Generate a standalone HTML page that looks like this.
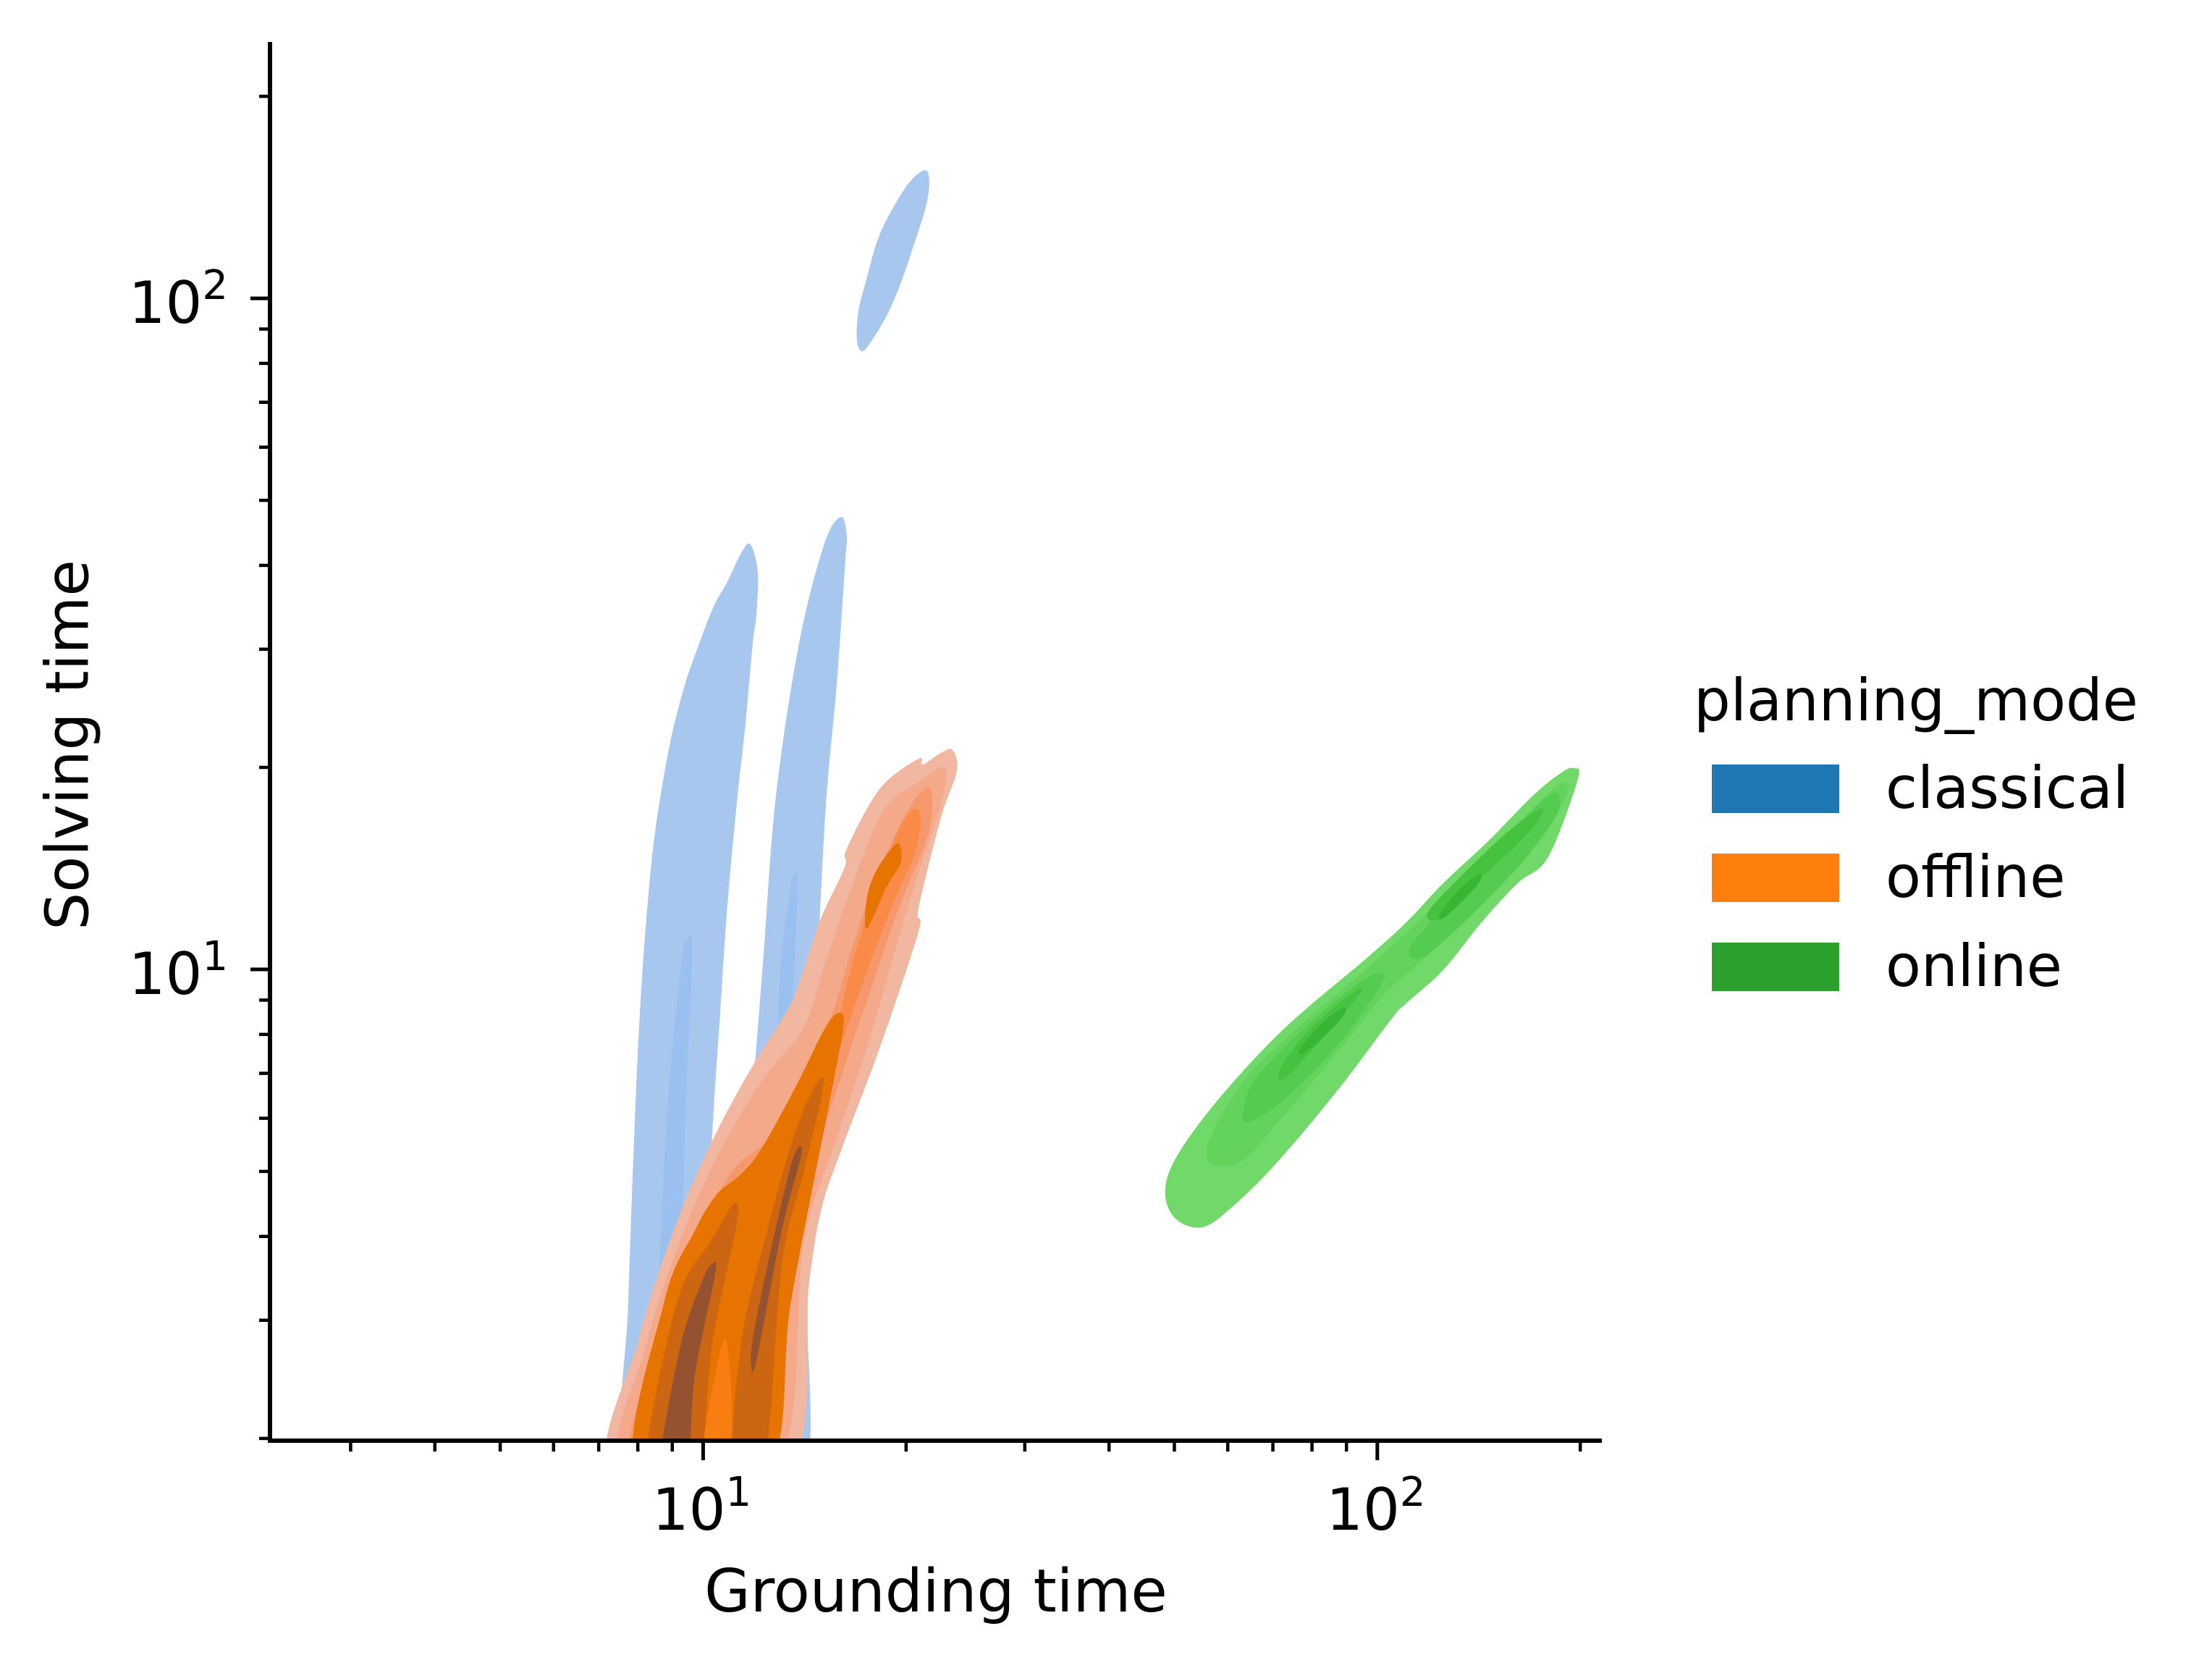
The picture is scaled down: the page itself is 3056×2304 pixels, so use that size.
<!DOCTYPE html>
<html><head><meta charset="utf-8">
<style>
html,body{margin:0;padding:0;background:#fff;}
svg{display:block;}
text{font-family:"DejaVu Sans","Liberation Sans",sans-serif;fill:#000;}
</style></head>
<body>
<svg id="chart" width="3056" height="2304" viewBox="0 0 3056 2304" xmlns="http://www.w3.org/2000/svg">
<defs><clipPath id="plotClip"><rect x="373" y="58" width="1840" height="1932"/></clipPath></defs>
<rect x="0" y="0" width="3056" height="2304" fill="#fff"/>
<g id="contours" clip-path="url(#plotClip)"></g>
<g id="axes"></g>
<text x="94" y="1029" font-size="82" text-anchor="middle" dominant-baseline="central" transform="rotate(-90 94 1029)">Solving time</text>
<text x="1293" y="2226" font-size="82" text-anchor="middle">Grounding time</text>
<g>
<text x="2340" y="995" font-size="80">planning_mode</text>
<g><rect x="2365" y="1056" width="176" height="67" fill="#1f77b4"/><text x="2605" y="1116" font-size="80">classical</text></g>
<g><rect x="2365" y="1179" width="176" height="67" fill="#ff7f0e"/><text x="2605" y="1239" font-size="80">offline</text></g>
<g><rect x="2365" y="1302" width="176" height="67" fill="#2ca02c"/><text x="2605" y="1362" font-size="80">online</text></g>
</g>
</svg>
<script>
// Axis domain (log10 units)
const xDomainLog = [0.3575, 2.333];
const yDomainLog = [0.2977, 2.382];
const xMajorExp = [1, 2];
const yMajorExp = [1, 2];
const xTickBase = ["10", "10"];
const yTickBase = ["10", "10"];
const xMinorVals = [3,4,5,6,7,8,9,20,30,40,50,60,70,80,90,200];
const yMinorVals = [2,3,4,5,6,7,8,9,20,30,40,50,60,70,80,90,200];

// Contour polygons: [log10(grounding), log10(solving)]
const classicalTop = [[1.3301,2.1909],[1.3355,2.1693],[1.3290,2.1316],[1.3119,2.0776],[1.2936,2.0237],[1.2754,1.9805],[1.2539,1.9428],[1.2367,1.9212],[1.2281,1.9374],[1.2303,1.9805],[1.2410,2.0237],[1.2593,2.0884],[1.2829,2.1370],[1.3076,2.1747]];
const classicalLeft = [[1.0703,1.6332],[1.0810,1.5922],[1.0789,1.5275],[1.0735,1.4854],[1.0628,1.3657],[1.0510,1.2578],[1.0360,1.0960],[1.0252,0.9342],[1.0145,0.7724],[1.0038,0.5567],[0.9930,0.25],[0.8825,0.25],[0.8889,0.5027],[0.8975,0.7465],[0.9061,0.9342],[0.9157,1.0744],[0.9286,1.2039],[0.9501,1.3333],[0.9716,1.4196],[0.9898,1.4736],[1.0145,1.5383],[1.0360,1.5782],[1.0574,1.6224]];
const classicalLeftInner = [[0.9780,1.0453],[0.9834,1.0205],[0.9716,0.7185],[0.9608,0.25],[0.9286,0.25],[0.9426,0.7185],[0.9662,0.9989]];
const classicalRight = [[1.2045,1.6742],[1.2131,1.6461],[1.2109,1.6095],[1.1981,1.4239],[1.1830,1.2578],[1.1723,1.0626],[1.1648,0.8803],[1.1573,0.6645],[1.1530,0.5200],[1.1519,0.25],[1.0521,0.25],[1.0649,0.7185],[1.0778,0.8706],[1.0896,1.0216],[1.1079,1.2578],[1.1422,1.4854],[1.1798,1.6343]];
const classicalRightInner = [[1.1358,1.1424],[1.1401,1.1176],[1.1326,0.9342],[1.1111,0.25],[1.0843,0.25],[1.1111,0.9342],[1.1272,1.1068]];

const offline1 = [[1.3698,1.3269],[1.3763,1.2956],[1.3526,1.2254],[1.3194,1.0906],[1.3194,1.0561],[1.2625,0.8846],[1.2056,0.7325],[1.1755,0.6430],[1.1573,0.5329],[1.1229,0.25],[0.8674,0.25],[0.9050,0.4509],[0.9608,0.6225],[1.0177,0.7530],[1.0735,0.8565],[1.1122,0.9180],[1.1379,0.9666],[1.1723,1.0701],[1.2099,1.1521],[1.2131,1.1801],[1.2625,1.2697],[1.3194,1.3139],[1.3258,1.3053],[1.3526,1.3225]];
const offline2 = [[1.3580,1.3010],[1.3526,1.2470],[1.3043,1.0960],[1.2453,0.8910],[1.1916,0.7292],[1.1487,0.5890],[1.1057,0.25],[0.8803,0.25],[0.9179,0.4488],[0.9716,0.6106],[1.0306,0.7400],[1.0896,0.8371],[1.1487,0.9126],[1.1809,1.0097],[1.2185,1.1176],[1.2668,1.2362],[1.3204,1.2794]];
const offline3 = [[1.3366,1.2686],[1.3344,1.2039],[1.2882,1.0852],[1.2292,0.9126],[1.1755,0.7508],[1.1326,0.6106],[1.0896,0.25],[0.8964,0.25],[0.9340,0.4488],[0.9877,0.5890],[1.0413,0.6969],[1.0950,0.7454],[1.1379,0.8155],[1.1916,0.9342],[1.2238,1.0421],[1.2668,1.1607],[1.3097,1.2470]];
const offline4 = [[1.3204,1.2362],[1.3151,1.1769],[1.2721,1.0744],[1.2131,0.9126],[1.1594,0.7508],[1.1165,0.6106],[1.0789,0.25],[0.9125,0.25],[0.9501,0.4488],[1.0038,0.5674],[1.0628,0.6753],[1.1111,0.7185],[1.1487,0.7832],[1.1916,0.8910],[1.2185,0.9989],[1.2453,1.0852],[1.2936,1.2147]];
const offline5Upper = [[1.2882,1.1877],[1.2936,1.1607],[1.2721,1.1230],[1.2453,1.0636],[1.2399,1.0744],[1.2453,1.1176],[1.2614,1.1553]];
const offline5Lower = [[1.2024,0.9353],[1.2077,0.9126],[1.1873,0.8015],[1.1304,0.5059],[1.0929,0.25],[0.9018,0.25],[0.9426,0.5059],[0.9877,0.6106],[1.0199,0.6645],[1.0521,0.6915],[1.0843,0.7292],[1.1379,0.8263],[1.1809,0.9126]];
const offlineStripe = [[1.0327,0.4488],[1.0413,0.25],[0.9962,0.25]];
const offline6Left = [[1.0456,0.6505],[1.0499,0.6214],[1.0145,0.4488],[0.9898,0.25],[0.9157,0.25],[0.9608,0.5027],[1.0145,0.5998]];
const offline6Right = [[1.1723,0.8360],[1.1766,0.8155],[1.1487,0.6969],[1.1165,0.5567],[1.0896,0.25],[1.0435,0.25],[1.0574,0.4488],[1.0950,0.6106],[1.1379,0.7616]];
const offline7Left = [[1.0134,0.5610],[1.0177,0.5459],[0.9877,0.3948],[0.9748,0.25],[0.9351,0.25],[0.9662,0.4380],[0.9984,0.5351]];
const offline7Right = [[1.1422,0.7357],[1.1444,0.7185],[1.1165,0.6106],[1.0789,0.4164],[1.0714,0.4110],[1.0735,0.4488],[1.0950,0.5567],[1.1272,0.6969]];

const online1 = [[2.2909,1.2999],[2.2973,1.2826],[2.2533,1.1672],[2.2082,1.1284],[2.1556,1.0712],[2.0977,0.9989],[2.0440,0.9504],[2.0214,0.9266],[1.9420,0.8209],[1.8529,0.7141],[1.7863,0.6473],[1.7413,0.6160],[1.7015,0.6278],[1.6854,0.6667],[1.7015,0.7195],[1.7638,0.8058],[1.8615,0.9115],[1.9860,1.0183],[2.0440,1.0712],[2.0977,1.1284],[2.1642,1.1909],[2.2308,1.2589],[2.2716,1.2923]];
const online2 = [[2.2759,1.2783],[2.2802,1.2589],[2.2222,1.1672],[2.1417,1.0852],[2.0665,1.0129],[2.0129,0.9655],[1.9420,0.8781],[1.8529,0.7724],[1.7992,0.7141],[1.7552,0.7098],[1.7498,0.7433],[1.7992,0.8306],[1.8754,0.9072],[1.9860,1.0032],[2.0751,1.0852],[2.1642,1.1726],[2.2448,1.2535]];
const online3Lower = [[2.0086,0.9935],[2.0043,0.9752],[1.9420,0.8878],[1.8615,0.8058],[1.8078,0.7724],[1.8014,0.7918],[1.8218,0.8404],[1.8969,0.9169],[1.9774,0.9838]];
const online3Upper = [[2.2716,1.2535],[2.2576,1.2157],[2.1867,1.1284],[2.0751,1.0227],[2.0483,1.0324],[2.1019,1.0949],[2.1867,1.1909],[2.2533,1.2589]];
const online4Lower = [[1.9774,0.9698],[1.9238,0.9029],[1.8615,0.8371],[1.8572,0.8544],[1.8969,0.9072],[1.9506,0.9558]];
const online4Upper = [[2.2448,1.2395],[2.2265,1.2060],[2.1460,1.1284],[2.0934,1.0755],[2.0751,1.0852],[2.1288,1.1435],[2.1996,1.2103]];
const online5Lower = [[1.9506,0.9428],[1.9484,0.9288],[1.9109,0.8910],[1.8883,0.8738],[1.8862,0.8824],[1.9216,0.9234]];
const online5Upper = [[2.1513,1.1413],[2.1503,1.1284],[2.1149,1.0906],[2.0934,1.0744],[2.0955,1.0874],[2.1256,1.1230]];

const NS = "http://www.w3.org/2000/svg";
const X0 = 373, X1 = 2213, Y0 = 1990, Y1 = 58;
function xScale(l){ return X0 + (l - xDomainLog[0]) / (xDomainLog[1] - xDomainLog[0]) * (X1 - X0); }
function yScale(l){ return Y0 - (l - yDomainLog[0]) / (yDomainLog[1] - yDomainLog[0]) * (Y0 - Y1); }

function smoothPath(pts){
  const p = pts.map(d => [xScale(d[0]), yScale(d[1])]);
  const n = p.length;
  let d = "M" + p[0][0].toFixed(1) + "," + p[0][1].toFixed(1);
  for (let i = 0; i < n; i++){
    const p0 = p[(i - 1 + n) % n], p1 = p[i], p2 = p[(i + 1) % n], p3 = p[(i + 2) % n];
    const c1x = p1[0] + (p2[0] - p0[0]) / 6, c1y = p1[1] + (p2[1] - p0[1]) / 6;
    const c2x = p2[0] - (p3[0] - p1[0]) / 6, c2y = p2[1] - (p3[1] - p1[1]) / 6;
    d += " C" + c1x.toFixed(1) + "," + c1y.toFixed(1) + " " + c2x.toFixed(1) + "," + c2y.toFixed(1) + " " + p2[0].toFixed(1) + "," + p2[1].toFixed(1);
  }
  return d + " Z";
}

const cg = document.getElementById("contours");
function addContour(pts, color, name){
  const el = document.createElementNS(NS, "path");
  el.setAttribute("d", smoothPath(pts));
  el.setAttribute("fill", color);
  
  
  cg.appendChild(el);
}
addContour(classicalTop, "#a8c7ee", "classical-contour-top");
addContour(classicalLeft, "#a8c7ee", "classical-contour-left");
addContour(classicalLeftInner, "#99c0ef", "classical-contour-left-inner");
addContour(classicalRight, "#a8c7ee", "classical-contour-right");
addContour(classicalRightInner, "#99c0ef", "classical-contour-right-inner");
addContour(offline1, "#f1b7a0", "offline-contour-1");
addContour(offline2, "#f3a98a", "offline-contour-2");
addContour(offline3, "#f6986c", "offline-contour-3");
addContour(offline4, "#f98a48", "offline-contour-4");
addContour(offline5Upper, "#e87400", "offline-contour-5-upper");
addContour(offline5Lower, "#e87400", "offline-contour-5-lower");
addContour(offlineStripe, "#f97e12", "offline-contour-stripe");
addContour(offline6Left, "#cc6612", "offline-contour-6-left");
addContour(offline6Right, "#cc6612", "offline-contour-6-right");
addContour(offline7Left, "#955230", "offline-contour-7-left");
addContour(offline7Right, "#955230", "offline-contour-7-right");
addContour(online1, "#70d96a", "online-contour-1");
addContour(online2, "#63d35c", "online-contour-2");
addContour(online3Lower, "#55cc50", "online-contour-3-lower");
addContour(online3Upper, "#55cc50", "online-contour-3-upper");
addContour(online4Lower, "#45c240", "online-contour-4-lower");
addContour(online4Upper, "#45c240", "online-contour-4-upper");
addContour(online5Lower, "#38b535", "online-contour-5-lower");
addContour(online5Upper, "#38b535", "online-contour-5-upper");

const ag = document.getElementById("axes");
function line(x1,y1,x2,y2,w,name){
  const el = document.createElementNS(NS, "line");
  el.setAttribute("x1", x1); el.setAttribute("y1", y1);
  el.setAttribute("x2", x2); el.setAttribute("y2", y2);
  el.setAttribute("stroke", "#000"); el.setAttribute("stroke-width", w);
  
  
  ag.appendChild(el);
}
xMinorVals.forEach(v => { const x = xScale(Math.log10(v)); if (x >= X0 && x <= X1) line(x, Y0, x, Y0 + 15, 4.5, "x-minor-tick"); });
yMinorVals.forEach(v => { const y = yScale(Math.log10(v)); if (y <= Y0 + 1 && y >= Y1) line(X0, y, X0 - 15, y, 4.5, "y-minor-tick"); });
function tickLabel(x, y, base, exp, anchor, name){
  const t = document.createElementNS(NS, "text");
  t.setAttribute("x", x); t.setAttribute("y", y);
  t.setAttribute("font-size", "80");
  t.setAttribute("text-anchor", anchor);
  
  
  t.textContent = base;
  const s = document.createElementNS(NS, "tspan");
  s.setAttribute("font-size", "56");
  s.setAttribute("dy", "-33");
  s.textContent = String(exp);
  t.appendChild(s);
  ag.appendChild(t);
}
xMajorExp.forEach((e, i) => {
  const x = xScale(e);
  line(x, Y0, x, Y0 + 27, 5, "x-major-tick");
  tickLabel(x - 2, 2113, xTickBase[i], e, "middle", "x-tick-label");
});
yMajorExp.forEach((e, i) => {
  const y = yScale(e);
  line(X0, y, X0 - 27, y, 5, "y-major-tick");
  tickLabel(315, y + 34, yTickBase[i], e, "end", "y-tick-label");
});
line(X0, Y1, X0, Y0 + 3, 6, "y-axis-spine");
line(X0 - 3, Y0, X1, Y0, 6, "x-axis-spine");
</script>
</body></html>
